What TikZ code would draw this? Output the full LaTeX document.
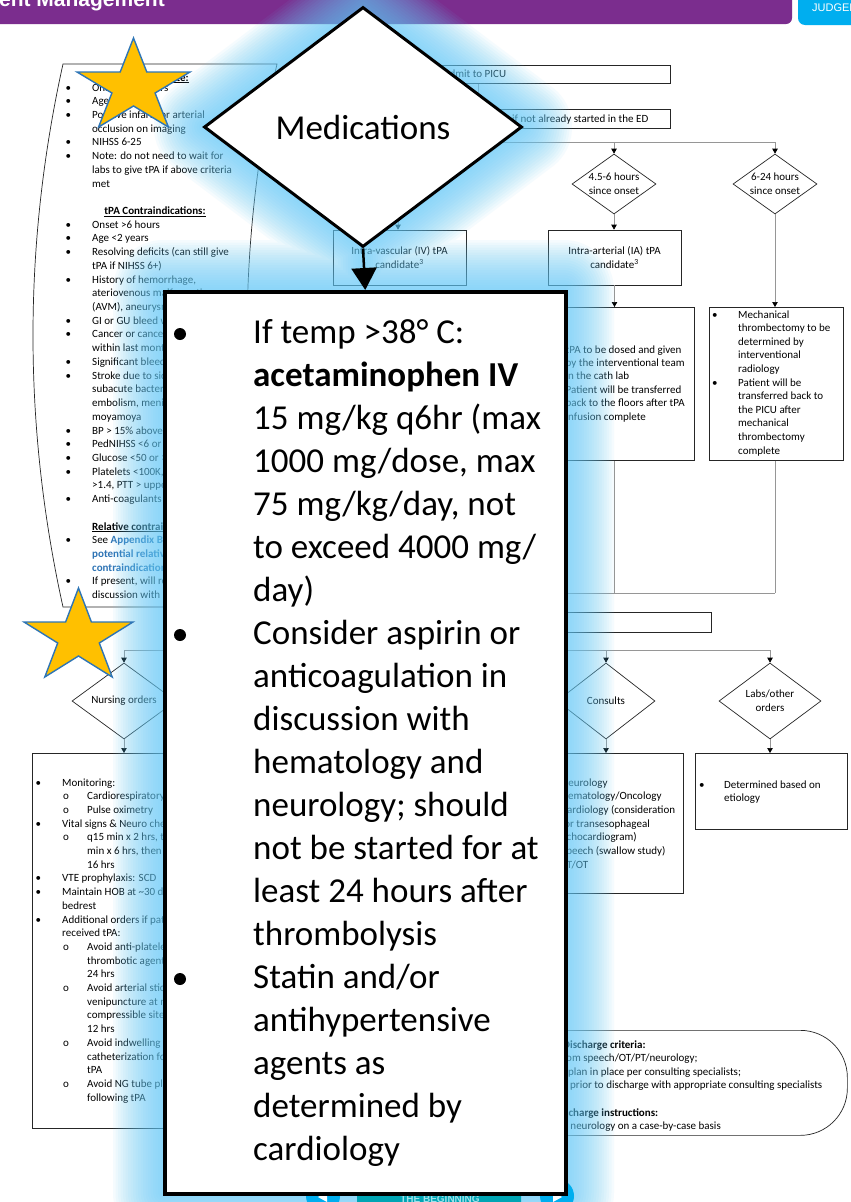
\documentclass[tikz,border=0pt]{standalone}
\usepackage{fontspec}
\setmainfont{Carlito}
\newfontfamily\arialf{Liberation Sans}
\usetikzlibrary{shapes.geometric,arrows.meta,calc}
\definecolor{purplebar}{RGB}{123,45,142}
\definecolor{tabblue}{RGB}{0,174,239}
\definecolor{glowblue}{RGB}{101,203,249}
\definecolor{starfill}{RGB}{255,192,0}
\definecolor{starline}{RGB}{46,117,182}
\definecolor{linkblue}{RGB}{46,116,181}
\definecolor{conngray}{RGB}{150,150,150}
\definecolor{navteal}{RGB}{0,165,180}
\definecolor{navtext}{RGB}{160,225,235}
\begin{document}
\begin{tikzpicture}[x=1pt,y=-1pt,
  sm/.style={font=\fontsize{11}{13.6}\selectfont, inner sep=0, anchor=base west},
  fbox/.style={draw=black!85, line width=0.7pt, fill=white, inner sep=0},
  conn/.style={draw=conngray, line width=0.7pt},
  arr/.style={conn, -{Triangle[width=5.5pt,length=5pt,color=black]}},
  fdia/.style={diamond, draw=black!85, line width=0.7pt, fill=white, inner sep=0},
  lbl/.style={font=\fontsize{11}{14}\selectfont, inner sep=0, align=center},
  big/.style={font=\fontsize{35}{43}\selectfont, inner sep=0, anchor=base west},
  starsty/.style={fill=starfill, draw=starline, line width=1.4pt, line join=miter},
]
\useasboundingbox (0,0) rectangle (851,1202);
\clip (0,0) rectangle (851,1202);
\fill[white] (0,0) rectangle (851,1202);

% ---------- left criteria box ----------
\draw[draw=black!85, line width=0.7pt, fill=white] (63,64) -- (277,64) .. controls (237,245) and (237,426) .. (277,607) -- (63,607) .. controls (23,426) and (23,245) .. (63,64) -- cycle;
\node[sm, anchor=base, font=\fontsize{11}{13.6}\selectfont\bfseries] (lh1) at (155,81) {\underline{tPA Candidate:}};
\node[sm, anchor=base, font=\fontsize{11}{13.6}\selectfont\bfseries] (lh2) at (155,214.5) {\underline{tPA Contraindications:}};
\foreach \n/\t in {
0/{Onset <4.5 hours},
1/{Age >2 years},
2/{Positive infarct or arterial},
3/{occlusion on imaging},
4/{NIHSS 6-25},
5/{Note: do not need to wait for},
6/{labs to give tPA if above criteria},
7/{met},
10/{Onset >6 hours},
11/{Age <2 years},
12/{Resolving deficits (can still give},
13/{tPA if NIHSS 6+)},
14/{History of hemorrhage,},
15/{ateriovenous malformation},
16/{(AVM), aneurysm},
17/{GI or GU bleed within 21 days},
18/{Cancer or cancer treatment},
19/{within last month},
20/{Significant bleeding},
21/{Stroke due to sickle cell,},
22/{subacute bacterial endocarditis,},
23/{embolism, meningitis,},
24/{moyamoya},
25/{BP > 15\% above normal},
26/{PedNIHSS <6 or >25},
27/{Glucose <50 or >400},
28/{Platelets <100K, INR},
29/{>1.4, PTT > upper limit},
30/{Anti-coagulants},
32/{\textbf{\underline{Relative contraindications:}}},
33/{See \textbf{\color{linkblue}Appendix B for}},
34/{\textbf{\color{linkblue}potential relative}},
35/{\textbf{\color{linkblue}contraindications}},
36/{If present, will require},
37/{discussion with}}
  \node[sm] (lt\n) at (92, 91+13.72*\n) {\t};
\foreach \n in {0,1,2,4,5,10,11,12,14,17,18,20,21,25,26,27,28,30,33,36}
  \node[sm] (lb\n) at (65.5, 91+13.72*\n) {•};

% ---------- top right flow ----------
\node[fbox, minimum width=380, minimum height=18, anchor=north west] (admit) at (290,65) {};
\node[sm] (admitT) at (443,77.5) {Admit to PICU};
\node[fbox, minimum width=380, minimum height=19, anchor=north west] (ed) at (290,109) {};
\node[sm] (edT) at (512,122.5) {if not already started in the ED};
\coordinate (xA) at (478,0);
\coordinate (br1) at (398,142);
\coordinate (br2) at (614,142);
\coordinate (br3) at (775,142);
\node[fdia, minimum width=84, minimum height=60] (d45) at (614,184) {};
\node[lbl] (d45T) at (d45.center) {4.5-6 hours\\since onset};
\node[fdia, minimum width=84, minimum height=60] (d624) at (775,184) {};
\node[lbl] (d624T) at (d624.center) {6-24 hours\\since onset};
\node[fbox, minimum width=133, minimum height=55] (iv) at (399.5,257.5) {};
\node[lbl] (ivT) at (iv.center) {Intra-vascular (IV) tPA\\candidate\textsuperscript{3}};
\node[fbox, minimum width=133, minimum height=55] (ia) at (614.5,257.5) {};
\node[lbl] (iaT) at (ia.center) {Intra-arterial (IA) tPA\\candidate\textsuperscript{3}};
\node[fbox, minimum width=160, minimum height=153, anchor=north west] (iac) at (534,307) {};
\foreach \n/\t in {0/{tPA to be dosed and given},1/{by the interventional team},2/{in the cath lab},3/{Patient will be transferred},4/{back to the floors after tPA},5/{infusion complete}}
  \node[sm] (iat\n) at (565.5, 353+13.4*\n) {\t};
\node[fbox, minimum width=134, minimum height=153, anchor=north west] (mech) at (709,307) {};
\foreach \n/\t in {0/{Mechanical},1/{thrombectomy to be},2/{determined by},3/{interventional},4/{radiology},5/{Patient will be},6/{transferred back to},7/{the PICU after},8/{mechanical},9/{thrombectomy},10/{complete}}
  \node[sm] (mt\n) at (738, 318+13.6*\n) {\t};
\node[sm] (mb0) at (712,318) {•};
\node[sm] (mb5) at (712,386) {•};

\draw[arr] (admit.south -| xA) -- (ed.north -| xA);
\draw[conn] (ed.south -| xA) -- (xA |- br1);
\draw[conn] (br1) -- (br3);
\draw[arr] (br1) -- (iv.north -| br1);
\draw[arr] (br2) -- (d45.north);
\draw[arr] (br3) -- (d624.north);
\draw[arr] (d45.south) -- (ia.north -| d45.south);
\draw[arr] (ia.south) -- (iac.north -| ia.south);
\draw[arr] (d624.south) -- (mech.north -| d624.south);

% join and support box
\coordinate (jn) at (420,593);
\draw[conn] (iac.south -| ia.south) -- (ia.south |- jn);
\draw[conn] (mech.south -| d624.south) -- (d624.south |- jn);
\draw[conn] (jn) -- (d624.south |- jn);
\node[fbox, minimum width=331, minimum height=20, anchor=north west] (sup) at (380,612) {};
\draw[arr] (sup.north |- jn) -- (sup.north);

% ---------- bottom flow ----------
\coordinate (h1) at (124,650);
\coordinate (h2) at (606,650);
\coordinate (h3) at (770,650);
\draw[conn] (sup.south) -- (sup.south |- h1);
\draw[conn] (h1) -- (h3);
\node[fdia, minimum width=104, minimum height=76] (nurse) at (124,701) {};
\node[lbl] (nurseT) at (nurse.center) {Nursing orders};
\node[fdia, minimum width=98, minimum height=76] (cons) at (606,701) {};
\node[lbl] (consT) at (cons.center) {Consults};
\node[fdia, minimum width=102, minimum height=76] (labs) at (770,701) {};
\node[lbl] (labsT) at (labs.center) {Labs/other\\orders};
\draw[arr] (h1) -- (nurse.north);
\draw[arr] (h2) -- (cons.north);
\draw[arr] (h3) -- (labs.north);

\node[fbox, minimum width=190, minimum height=375, anchor=north west] (nbox) at (32,753) {};
\node[fbox, minimum width=154, minimum height=140, anchor=north west] (cbox) at (529,753) {};
\node[fbox, minimum width=152, minimum height=76, anchor=north west] (lbox) at (695,753) {};
\draw[arr] (nurse.south) -- (nbox.north -| nurse.south);
\draw[arr] (cons.south) -- (cbox.north -| cons.south);
\draw[arr] (labs.south) -- (lbox.north -| labs.south);

% nursing text
\foreach \n/\t in {0/{Monitoring:},3/{Vital signs \& Neuro checks},7/{VTE prophylaxis: SCD},8/{Maintain HOB at \textasciitilde30 degrees,},9/{bedrest},10/{Additional orders if patient},11/{received tPA:}}
  \node[sm] (nt\n) at (62, 786+13.7*\n) {\t};
\foreach \n/\t in {1/{Cardiorespiratory monitoring},2/{Pulse oximetry},4/{q15 min x 2 hrs, then q30},5/{min x 6 hrs, then q1 hr x},6/{16 hrs},12/{Avoid anti-platelet/anti-},13/{thrombotic agents for},14/{24 hrs},15/{Avoid arterial sticks/},16/{venipuncture at non-},17/{compressible sites for},18/{12 hrs},19/{Avoid indwelling bladder},20/{catheterization for 4 hrs after},21/{tPA},22/{Avoid NG tube placement},23/{following tPA}}
  \node[sm] (ns\n) at (87, 786+13.7*\n) {\t};
\foreach \n in {0,3,7,8,10}
  \node[sm] (nb\n) at (35.5, 786+13.7*\n) {•};
\foreach \n in {1,2,4,12,15,19,22}
  \node[sm] (no\n) at (63, 786+13.7*\n) {o};

% consults text
\foreach \n/\t in {0/{Neurology},1/{Hematology/Oncology},2/{Cardiology (consideration},3/{for transesophageal},4/{echocardiogram)},5/{Speech (swallow study)},6/{PT/OT}}
  \node[sm] (ct\n) at (561, 786+13.7*\n) {\t};
% labs text
\node[sm] (lbb) at (699,788) {•};
\node[sm] (lbt0) at (724,788) {Determined based on};
\node[sm] (lbt1) at (724,801.7) {etiology};

% discharge box
\node[draw=black!85, line width=0.7pt, fill=white, rounded corners=47, minimum width=427, minimum height=105, anchor=north west, inner sep=0] (disc) at (420,1030) {};
\node[sm, font=\fontsize{11}{13.6}\selectfont\bfseries] (dc0) at (563,1048) {Discharge criteria:};
\node[sm] (dc1) at (559,1061.6) {\llap{Clearance }from speech/OT/PT/neurology;};
\node[sm] (dc2) at (568,1075.2) {\llap{Follow-up }plan in place per consulting specialists;};
\node[sm] (dc3) at (562,1088.8) {\llap{Schedul}e prior to discharge with appropriate consulting specialists};
\node[sm, font=\fontsize{11}{13.6}\selectfont\bfseries] (dc5) at (564,1116) {\llap{Di}scharge instructions:};
\node[sm] (dc6) at (564,1129.6) {\llap{Follow-up with hematology o}r neurology on a case-by-case basis};

% ---------- header ----------
\fill[purplebar, rounded corners=6] (-10,-10) rectangle (792,24);
\node[anchor=base east, inner sep=0, text=white, font=\arialf\bfseries\fontsize{21}{22}\selectfont] (hdr) at (165,6.5) {Inpatient Management};
\fill[tabblue, rounded corners=7] (798,-10) rectangle (870,25);
\node[anchor=base west, inner sep=0, text=white, font=\arialf\fontsize{11}{11}\selectfont] (tab) at (812,11.5) {JUDGEMENT};

% ---------- glow ----------
\foreach \w in {5,10,...,100}
  \draw[glowblue, opacity=0.06, line width=\w pt, line join=round]
    (363,7) -- (522,127) -- (363,247) -- (204,127) -- cycle
    (163,290) rectangle (564,1193)
    (363,247) -- (363,290);

% ---------- nav ----------
\fill[tabblue] (323,1196) circle (17);
\fill[white] (318,1197) -- (327,1192) -- (327,1202) -- cycle;
\fill[tabblue] (557,1196) circle (17);
\fill[white] (562,1197) -- (553,1192) -- (553,1202) -- cycle;
\fill[navteal, rounded corners=10] (357,1183) rectangle (521,1220);
\node[anchor=base, inner sep=0, text=navtext, font=\arialf\bfseries\fontsize{10}{10}\selectfont] (nav) at (440,1202.3) {THE BEGINNING};

% ---------- overlay: Medications ----------
\node[diamond, draw=black, line width=3pt, fill=white, inner sep=0, minimum width=318, minimum height=240, font=\fontsize{35}{40}\selectfont] (meddia) at (363,127) {Medications};
\node[draw=black, line width=3.5pt, fill=white, inner sep=0, minimum width=401, minimum height=902, anchor=north west] (medbox) at (163,290) {};
\draw[line width=2.5pt, -{Triangle[width=25pt,length=22pt]}] (meddia.south) -- (medbox.north);
\foreach \n/\t in {0/{If temp >38° C:},1/{\textbf{acetaminophen IV}},2/{15 mg/kg q6hr (max},3/{1000 mg/dose, max},4/{75 mg/kg/day, not},5/{to exceed 4000 mg/},6/{day)},7/{Consider aspirin or},8/{anticoagulation in},9/{discussion with},10/{hematology and},11/{neurology; should},12/{not be started for at},13/{least 24 hours after},14/{thrombolysis},15/{Statin and/or},16/{antihypertensive},17/{agents as},18/{determined by},19/{cardiology}}
  \node[big] (bt\n) at (253, 343+43*\n) {\t};
\foreach \n in {0,7,15}
  \node[circle, fill=black, inner sep=0, minimum size=12] (bb\n) at (180, 334+43*\n) {};

% ---------- stars ----------
\draw[starsty] (133.5,38) -- (120.2,72) -- (77,72) -- (111.9,93) -- (98.6,127) -- (133.5,106) -- (168.4,127) -- (155.1,93) -- (190,72) -- (146.8,72) -- cycle;
\draw[starsty] (78.5,588) -- (65.6,622) -- (24,622) -- (57.7,643) -- (44.8,677) -- (78.5,656) -- (112.2,677) -- (99.3,643) -- (133,622) -- (91.4,622) -- cycle;
\end{tikzpicture}
\end{document}
